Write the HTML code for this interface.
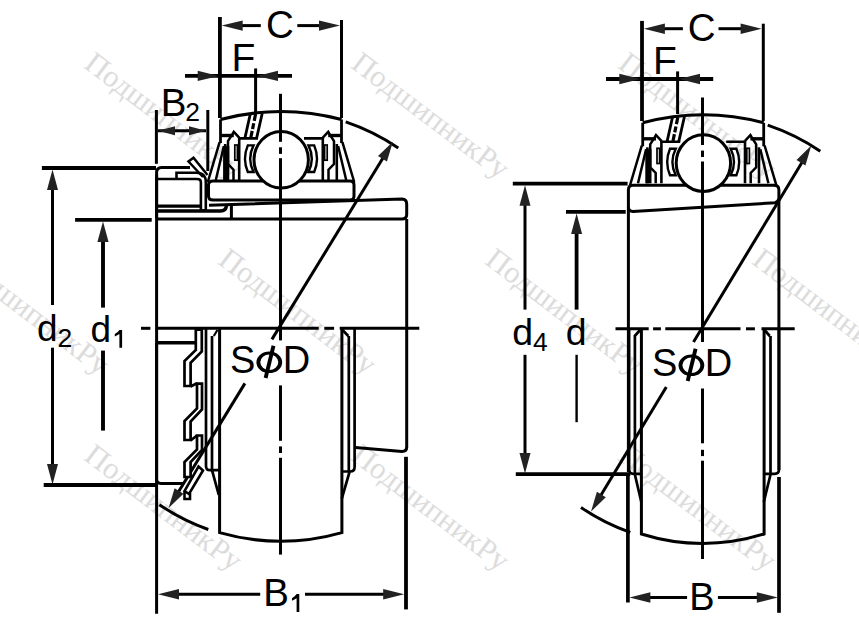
<!DOCTYPE html>
<html><head><meta charset="utf-8"><style>
html,body{margin:0;padding:0;background:#fff;}
svg{display:block}
text{font-family:"Liberation Sans",sans-serif;fill:#000;stroke:none}
text.wm{font-family:"Liberation Serif",serif;font-size:30.5px;fill:#dcdcdc}
</style></head><body>
<svg width="859" height="633" viewBox="0 0 859 633" stroke="#000" fill="none" stroke-linecap="butt">
<rect width="859" height="633" fill="#fff" stroke="none"/>
<text class="wm" x="0" y="0" transform="translate(96,49.5) rotate(37) translate(0,22)">ПодшипникРу</text>
<text class="wm" x="0" y="0" transform="translate(363,49.5) rotate(37) translate(0,22)">ПодшипникРу</text>
<text class="wm" x="0" y="0" transform="translate(630,49.5) rotate(37) translate(0,22)">ПодшипникРу</text>
<text class="wm" x="0" y="0" transform="translate(-37,245.5) rotate(37) translate(0,22)">ПодшипникРу</text>
<text class="wm" x="0" y="0" transform="translate(230,245.5) rotate(37) translate(0,22)">ПодшипникРу</text>
<text class="wm" x="0" y="0" transform="translate(497,245.5) rotate(37) translate(0,22)">ПодшипникРу</text>
<text class="wm" x="0" y="0" transform="translate(764,245.5) rotate(37) translate(0,22)">ПодшипникРу</text>
<text class="wm" x="0" y="0" transform="translate(96,441.5) rotate(37) translate(0,22)">ПодшипникРу</text>
<text class="wm" x="0" y="0" transform="translate(363,441.5) rotate(37) translate(0,22)">ПодшипникРу</text>
<text class="wm" x="0" y="0" transform="translate(630,441.5) rotate(37) translate(0,22)">ПодшипникРу</text>
<path d="M220.5,119.5 Q281,103.5 341.5,119.5" stroke-width="3" fill="none"/>
<path d="M250.4,113.5 L244.8,138.6 M262.2,113.5 L256.5,138.6" stroke-width="2.8"/>
<path d="M255.6,114 L250.8,137.7" stroke-width="3.2" stroke-dasharray="7 2.4 6 1.8 8"/>
<path d="M341.5,119.5 V143" stroke-width="2.8"/><path d="M328.2,135.5 H341.5" stroke-width="3.4"/><path d="M304,138.4 H322.8 M322.8,137 V180" stroke-width="2.6"/><path d="M322.8,137.6 L328.2,131.8 L329.6,134.2 L334,141 V164 L328.5,169.7 V180" stroke-width="2.5"/><rect x="324.6" y="145" width="2.6" height="15.2" stroke-width="1.7" fill="#fff"/><path d="M336.8,144 V180" stroke-width="2.6"/><path d="M338.1,146 L346.2,180 M342.4,142.2 L354.2,182" stroke-width="2.5"/><path d="M308.5,145.4 Q315.1,158.7 308.5,172 H314.2 Q319.8,158.7 314.2,145.4 Z" stroke-width="2.4" fill="#fff"/>
<g transform="translate(562,0) scale(-1,1)"><path d="M341.5,119.5 V143" stroke-width="2.8"/><path d="M328.2,135.5 H341.5" stroke-width="3.4"/><path d="M304,138.4 H322.8 M322.8,137 V180" stroke-width="2.6"/><path d="M322.8,137.6 L328.2,131.8 L329.6,134.2 L334,141 V164 L328.5,169.7 V180" stroke-width="2.5"/><rect x="324.6" y="145" width="2.6" height="15.2" stroke-width="1.7" fill="#fff"/><path d="M336.8,144 V180" stroke-width="2.6"/><path d="M338.1,146 L346.2,180 M342.4,142.2 L354.2,182" stroke-width="2.5"/><path d="M308.5,145.4 Q315.1,158.7 308.5,172 H314.2 Q319.8,158.7 314.2,145.4 Z" stroke-width="2.4" fill="#fff"/></g>
<rect x="223.1" y="146" width="6.2" height="34" fill="#000" stroke="none"/>
<path d="M213,181 H350 Q354,181 354,185 V196 Q354,200 350,200 H213 Q208.5,200 208.5,196 V185 Q208.5,181 213,181 Z" stroke-width="3" fill="#fff" />
<ellipse cx="281.2" cy="159.8" rx="27.2" ry="28.3" stroke-width="3" fill="#fff"/>
<line x1="219.9" y1="17" x2="219.9" y2="118" stroke-width="3.8" />
<line x1="341.5" y1="20" x2="341.5" y2="118" stroke-width="3" />
<line x1="238" y1="25.6" x2="260.8" y2="25.6" stroke-width="3" />
<line x1="297.3" y1="25.6" x2="324" y2="25.6" stroke-width="3" />
<polygon points="221.7,25.6 242.7,20.4 242.7,30.8" fill="#222" stroke="none"/>
<polygon points="340.0,25.6 319.0,30.8 319.0,20.4" fill="#222" stroke="none"/>
<text x="280" y="38" font-size="38.5" text-anchor="middle" >C</text>
<line x1="185" y1="75.9" x2="292" y2="75.9" stroke-width="3.8" />
<polygon points="218.7,75.9 197.7,81.1 197.7,70.7" fill="#222" stroke="none"/>
<polygon points="257.0,75.9 278.0,70.7 278.0,81.1" fill="#222" stroke="none"/>
<line x1="255.6" y1="68.4" x2="255.6" y2="112" stroke-width="3" />
<text x="243.5" y="70.8" font-size="39" text-anchor="middle" >F</text>
<line x1="156.4" y1="110" x2="156.4" y2="163.8" stroke-width="3" />
<line x1="207.8" y1="110" x2="207.8" y2="171" stroke-width="3" />
<line x1="158" y1="130.8" x2="206" y2="130.8" stroke-width="3" />
<polygon points="158.0,130.8 175.0,126.3 175.0,135.3" fill="#222" stroke="none"/>
<polygon points="206.0,130.8 189.0,135.3 189.0,126.3" fill="#222" stroke="none"/>
<text x="160.8" y="116" font-size="38.5" text-anchor="start" >B</text>
<text x="185.3" y="120.5" font-size="26.5" text-anchor="start" >2</text>
<line x1="41.9" y1="168" x2="156" y2="168" stroke-width="3.8" />
<line x1="52.5" y1="185" x2="52.5" y2="305" stroke-width="3" />
<polygon points="52.5,169.5 58.0,190.0 47.0,190.0" fill="#222" stroke="none"/>
<line x1="52.5" y1="347.7" x2="52.5" y2="467" stroke-width="3" />
<polygon points="52.5,484.5 47.0,464.0 58.0,464.0" fill="#222" stroke="none"/>
<line x1="43.7" y1="485" x2="157" y2="485" stroke-width="3.8" />
<line x1="75.1" y1="219.9" x2="151.7" y2="219.9" stroke-width="3.8" />
<line x1="103" y1="237" x2="103" y2="307.6" stroke-width="3.9" />
<polygon points="103.0,221.4 108.6,241.9 97.4,241.9" fill="#222" stroke="none"/>
<line x1="103" y1="350.6" x2="103" y2="430.6" stroke-width="3.9" />
<text x="37" y="341" font-size="37" text-anchor="start" >d</text>
<text x="57.5" y="347" font-size="26.5" text-anchor="start" >2</text>
<text x="90.5" y="341.5" font-size="37" text-anchor="start" >d</text>
<path d="M119.39999999999999,329.9 H122.1 V347.79999999999995 H119.39999999999999 V334.09999999999997 Q117.39999999999999,335.5 114.8,336.5 V334.0 Q117.8,332.5 119.39999999999999,329.9 Z" fill="#000" stroke="none"/>
<line x1="156.6" y1="175" x2="156.6" y2="613.8" stroke-width="3" />
<line x1="406" y1="456.8" x2="406" y2="609.4" stroke-width="3.8" />
<line x1="175" y1="594.2" x2="260.2" y2="594.2" stroke-width="3" />
<line x1="305" y1="594.2" x2="388" y2="594.2" stroke-width="3" />
<polygon points="158.0,594.2 179.0,589.0 179.0,599.4" fill="#222" stroke="none"/>
<polygon points="404.2,594.2 383.2,599.4 383.2,589.0" fill="#222" stroke="none"/>
<text x="263.3" y="606" font-size="38.5" text-anchor="start" >B</text>
<path d="M296.6,594.1 H299.3 V612.0 H296.6 V598.3000000000001 Q294.6,599.7 292,600.7 V598.2 Q295.0,596.7 296.6,594.1 Z" fill="#000" stroke="none"/>
<line x1="141" y1="328.3" x2="150.4" y2="328.3" stroke-width="3" />
<line x1="156" y1="328.3" x2="318.7" y2="328.3" stroke-width="3" />
<line x1="324.3" y1="328.3" x2="334.1" y2="328.3" stroke-width="3" />
<line x1="339.7" y1="328.3" x2="419.3" y2="328.3" stroke-width="3" />
<line x1="280.5" y1="93.8" x2="280.5" y2="141.8" stroke-width="3" />
<line x1="280.5" y1="147.3" x2="280.5" y2="153.9" stroke-width="3" />
<line x1="280.5" y1="158.2" x2="280.5" y2="340.4" stroke-width="3" />
<line x1="280.5" y1="385.4" x2="280.5" y2="440.8" stroke-width="3" />
<line x1="280.5" y1="446.4" x2="280.5" y2="453" stroke-width="3" />
<line x1="280.5" y1="457.8" x2="280.5" y2="554.6" stroke-width="3" />
<path d="M345.7,121.9 A217,217 0 0 1 398.3,148" stroke-width="3" fill="none" />
<path d="M159.4,504.7 A215,215 0 0 0 208.3,529.5" stroke-width="3" fill="none" />
<line x1="386.8" y1="151.8" x2="271.9" y2="339.4" stroke-width="3" />
<line x1="244.9" y1="383.4" x2="174.7" y2="498" stroke-width="3" />
<polygon points="392.9,141.8 386.9,161.6 378.0,156.1" fill="#222" stroke="none"/>
<polygon points="168.6,508.0 174.6,488.2 183.5,493.7" fill="#222" stroke="none"/>
<text x="230" y="373" font-size="38" text-anchor="start" >S</text>
<text x="310.3" y="372.6" font-size="38" text-anchor="end" >D</text>
<path d="M256.40000000000003,362.3 a12.9,10.75 0 1 0 25.8,0 a12.9,10.75 0 1 0 -25.8,0 Z M260.3,362.3 a9.0,7.8 0 1 0 18.0,0 a9.0,7.8 0 1 0 -18.0,0 Z" fill="#000" fill-rule="evenodd" stroke="none"/><line x1="273.5" y1="345.8" x2="265.6" y2="378.0" stroke-width="3.9"/>
<path d="M209,205.2 L402,199 Q406.7,199 406.7,204 V214.5 Q406.7,219 402,219 H157" stroke-width="3" fill="none" />
<line x1="231.4" y1="205" x2="231.4" y2="219" stroke-width="3" />
<line x1="406.7" y1="219" x2="406.7" y2="447.6" stroke-width="3" />
<path d="M156.6,218 V172.5 Q156.6,167.4 161.6,167.4 H190" stroke-width="3" fill="none" />
<path d="M156.6,179 H176.5 V172.7 H196.4 Q205.8,172.7 205.8,182 V210.3 H200.9 V182 Q200.9,179 197,179 H176.5" stroke-width="2.6" fill="none" />
<line x1="156.6" y1="206.2" x2="200" y2="206.2" stroke-width="3.2" />
<path d="M156.6,211 H220.5 Q226,211 226.5,205.5" stroke-width="3.4" fill="none" />
<path d="M203,177 L188.5,161.5 L193.5,157.8 L207.5,175" stroke-width="2.5" fill="none" />
<path d="M219.6,329 V532.6 Q280.8,550 341.9,532.6 V329" stroke-width="3" fill="none" />
<path d="M212,336 V470 M206,329 V466 Q206,470.2 210,470.2 H219 M212,470.2 L218.8,495" stroke-width="2.7" fill="none" />
<path d="M213.8,336 L217.4,330" stroke-width="2.2" fill="none" />
<path d="M341.5,329 L348.3,336 M348.8,336 V471.5 M354.6,329 V467 Q354.6,471.5 350,471.5 H342 M349.5,472 L341.8,498.6" stroke-width="2.7" fill="none" />
<path d="M355.4,447.6 L402,451.4 Q406.7,451.4 406.7,447" stroke-width="3" fill="none" />
<path d="M156.6,343 V479.6 Q156.6,483.4 161,483.4 H183.6" stroke-width="3" fill="none" />
<line x1="156.6" y1="342.7" x2="195" y2="342.7" stroke-width="3.4" />
<path d="M195.8,329.7 L201.8,329.7 L201.8,351.5 L190.6,362.7 L190.6,386 L184.5,386 L184.5,361 L195.8,350 Z" stroke-width="2.7" fill="#fff" />
<path d="M197,383.6 L202,383.6 L202,409.5 L190.6,421.5 L190.6,440 L184.5,440 L184.5,421 L197,408.5 Z" stroke-width="2.7" fill="#fff" />
<path d="M197,435.5 L202,435.5 L202,450 L190.6,462 L190.6,477 L184.5,477 L184.5,462 L197,449.5 Z" stroke-width="2.7" fill="#fff" />
<path d="M190.6,386.5 L197,383.2 M190.6,440.5 L197,435.5" stroke-width="2.7" fill="none" />
<path d="M198.5,466.5 L203,470.5 L189,494 L184.5,491 Z" stroke-width="2.6" fill="#fff" />
<path d="M184.5,492 V499 H190 V493" stroke-width="2.6" fill="none" />
<g transform="translate(422.2,3.3)"><path d="M220.5,119.5 Q281,103.5 341.5,119.5" stroke-width="3" fill="none"/>
<path d="M250.4,113.5 L244.8,138.6 M262.2,113.5 L256.5,138.6" stroke-width="2.8"/>
<path d="M255.6,114 L250.8,137.7" stroke-width="3.2" stroke-dasharray="7 2.4 6 1.8 8"/>
<path d="M341.5,119.5 V143" stroke-width="2.8"/><path d="M328.2,135.5 H341.5" stroke-width="3.4"/><path d="M304,138.4 H322.8 M322.8,137 V180" stroke-width="2.6"/><path d="M322.8,137.6 L328.2,131.8 L329.6,134.2 L334,141 V164 L328.5,169.7 V180" stroke-width="2.5"/><rect x="324.6" y="145" width="2.6" height="15.2" stroke-width="1.7" fill="#fff"/><path d="M336.8,144 V180" stroke-width="2.6"/><path d="M338.1,146 L346.2,180 M342.4,142.2 L354.2,182" stroke-width="2.5"/><path d="M308.5,145.4 Q315.1,158.7 308.5,172 H314.2 Q319.8,158.7 314.2,145.4 Z" stroke-width="2.4" fill="#fff"/>
<g transform="translate(562,0) scale(-1,1)"><path d="M341.5,119.5 V143" stroke-width="2.8"/><path d="M328.2,135.5 H341.5" stroke-width="3.4"/><path d="M304,138.4 H322.8 M322.8,137 V180" stroke-width="2.6"/><path d="M322.8,137.6 L328.2,131.8 L329.6,134.2 L334,141 V164 L328.5,169.7 V180" stroke-width="2.5"/><rect x="324.6" y="145" width="2.6" height="15.2" stroke-width="1.7" fill="#fff"/><path d="M336.8,144 V180" stroke-width="2.6"/><path d="M338.1,146 L346.2,180 M342.4,142.2 L354.2,182" stroke-width="2.5"/><path d="M308.5,145.4 Q315.1,158.7 308.5,172 H314.2 Q319.8,158.7 314.2,145.4 Z" stroke-width="2.4" fill="#fff"/></g>
<rect x="223.1" y="146" width="6.2" height="34" fill="#000" stroke="none"/></g>
<line x1="642" y1="20.9" x2="642" y2="121" stroke-width="3.8"/>
<line x1="763.3" y1="23.7" x2="763.3" y2="121" stroke-width="3"/>
<line x1="661" y1="28.7" x2="682.9" y2="28.7" stroke-width="3"/>
<line x1="718.5" y1="28.7" x2="745" y2="28.7" stroke-width="3"/>
<polygon points="643.9,28.7 664.9,23.5 664.9,33.9" fill="#222" stroke="none"/>
<polygon points="761.6,28.7 740.6,33.9 740.6,23.5" fill="#222" stroke="none"/>
<text x="701.6" y="41" font-size="38.5" text-anchor="middle">C</text>
<line x1="606" y1="79" x2="713.2" y2="79" stroke-width="3.8"/>
<polygon points="640.3,79.0 619.3,84.2 619.3,73.8" fill="#222" stroke="none"/>
<polygon points="679.0,79.0 700.0,73.8 700.0,84.2" fill="#222" stroke="none"/>
<line x1="677.6" y1="71.4" x2="677.6" y2="114" stroke-width="3"/>
<text x="665" y="74" font-size="39" text-anchor="middle">F</text>
<line x1="512.8" y1="183.7" x2="627.6" y2="183.7" stroke-width="3.8"/>
<line x1="525" y1="201" x2="525" y2="309.6" stroke-width="3"/>
<polygon points="525.0,185.3 530.5,205.8 519.5,205.8" fill="#222" stroke="none"/>
<line x1="525" y1="354.8" x2="525" y2="457" stroke-width="3"/>
<polygon points="525.0,473.4 519.5,452.9 530.5,452.9" fill="#222" stroke="none"/>
<line x1="515.8" y1="474.2" x2="630.3" y2="474.2" stroke-width="3.8"/>
<line x1="566" y1="211.8" x2="625.7" y2="211.8" stroke-width="3.8"/>
<line x1="576.6" y1="229" x2="576.6" y2="309.6" stroke-width="3.8"/>
<polygon points="576.6,213.4 582.1,233.9 571.1,233.9" fill="#222" stroke="none"/>
<line x1="576.6" y1="354.8" x2="576.6" y2="422.2" stroke-width="2.4"/>
<text x="512.3" y="345.3" font-size="37.5">d</text><text x="533" y="351" font-size="26.5">4</text>
<text x="565.8" y="345.3" font-size="37.5">d</text>
<path d="M633,185.3 H774 Q778.9,185.3 778.9,190 V198 Q778.9,201 775,202.8 L633,211.4 Q628.4,211.4 628.4,207 V190 Q628.4,185.3 633,185.3 Z" stroke-width="3" fill="#fff"/>
<line x1="628.4" y1="207" x2="628.4" y2="472" stroke-width="3"/>
<line x1="778.9" y1="200" x2="778.9" y2="470" stroke-width="3"/>
<g transform="translate(422.2,3.3)"><ellipse cx="281.2" cy="159.8" rx="27.2" ry="28.3" stroke-width="3" fill="#fff"/></g>
<line x1="627.9" y1="474.7" x2="627.9" y2="602.5" stroke-width="3.7"/>
<line x1="779" y1="477" x2="779" y2="612.8" stroke-width="3.7"/>
<line x1="647" y1="597.5" x2="687.1" y2="597.5" stroke-width="3"/>
<line x1="717.9" y1="597.5" x2="760" y2="597.5" stroke-width="3"/>
<polygon points="629.4,597.5 650.4,592.3 650.4,602.7" fill="#222" stroke="none"/>
<polygon points="777.8,597.5 756.8,602.7 756.8,592.3" fill="#222" stroke="none"/>
<text x="702" y="609.9" font-size="38" text-anchor="middle">B</text>
<line x1="615.5" y1="328.8" x2="648.7" y2="328.8" stroke-width="3"/>
<line x1="653.1" y1="328.8" x2="660.9" y2="328.8" stroke-width="3"/>
<line x1="665.3" y1="328.8" x2="740.5" y2="328.8" stroke-width="3"/>
<line x1="746" y1="328.8" x2="754.9" y2="328.8" stroke-width="3"/>
<line x1="761.5" y1="328.8" x2="794.7" y2="328.8" stroke-width="3"/>
<line x1="702.5" y1="97.5" x2="702.5" y2="145" stroke-width="3"/>
<line x1="702.5" y1="150.6" x2="702.5" y2="157" stroke-width="3"/>
<line x1="702.5" y1="161.5" x2="702.5" y2="342" stroke-width="3"/>
<line x1="702.5" y1="388.5" x2="702.5" y2="443.3" stroke-width="3"/>
<line x1="702.5" y1="449.8" x2="702.5" y2="456.1" stroke-width="3"/>
<line x1="702.5" y1="460.7" x2="702.5" y2="559" stroke-width="3"/>
<path d="M767.7,125.1 A217,217 0 0 1 820.3,151.2" stroke-width="3"/>
<path d="M581,507.5 A215,215 0 0 0 630.3,532.4" stroke-width="3"/>
<line x1="805.4" y1="156.8" x2="693.5" y2="342" stroke-width="3"/>
<line x1="666.3" y1="387" x2="597.7" y2="500.5" stroke-width="3"/>
<polygon points="811.3,145.6 805.4,165.4 796.5,160.0" fill="#222" stroke="none"/>
<polygon points="591.0,511.6 596.9,491.8 605.8,497.2" fill="#222" stroke="none"/>
<text x="652.1" y="376" font-size="38">S</text><text x="732.1" y="375.6" font-size="38" text-anchor="end">D</text>
<path d="M678.5,365.3 a12.9,10.75 0 1 0 25.8,0 a12.9,10.75 0 1 0 -25.8,0 Z M682.4,365.3 a9.0,7.8 0 1 0 18.0,0 a9.0,7.8 0 1 0 -18.0,0 Z" fill="#000" fill-rule="evenodd" stroke="none"/><line x1="695.6" y1="348.8" x2="687.6999999999999" y2="381.0" stroke-width="3.9"/>
<path d="M641.4,329 V534 Q702.3,553 764.1,534 V329" stroke-width="3"/>
<path d="M634.9,336 V474.5 L641.3,502 M634.3,336.5 L641,329 M629.1,329 V469.5 Q629.1,473.8 633.5,473.8 H641.4" stroke-width="2.7"/>
<path d="M770.5,336 V474.5 L763.8,502 M763.7,329 L769.7,336 M779,329 V469.5 Q779,473.8 774.6,473.8 H763.5" stroke-width="2.7"/>
</svg>
</body></html>
